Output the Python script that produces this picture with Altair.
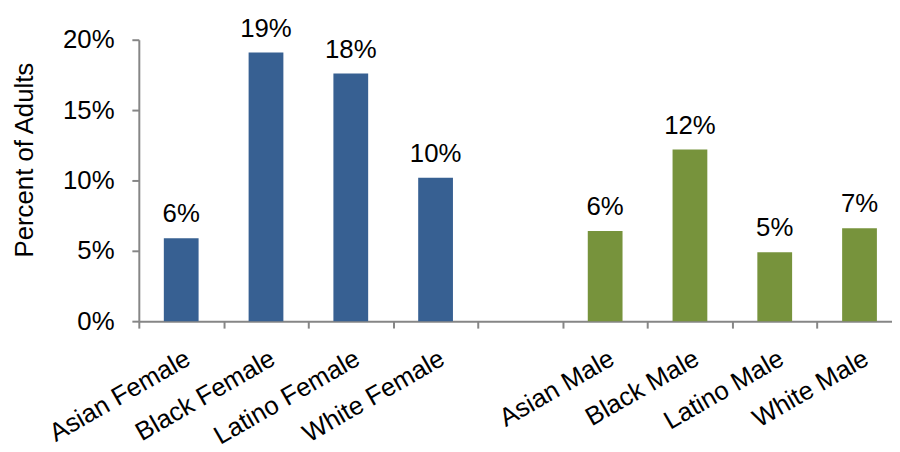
import altair as alt
import pandas as pd

categories = ["Asian Female", "Black Female", "Latino Female", "White Female", " ",
              "Asian Male", "Black Male", "Latino Male", "White Male"]
bar_categories = ["Asian Female", "Black Female", "Latino Female", "White Female",
                  "Asian Male", "Black Male", "Latino Male", "White Male"]
values = [0.059, 0.191, 0.176, 0.102, 0.064, 0.122, 0.049, 0.066]
groups = ["Female", "Female", "Female", "Female", "Male", "Male", "Male", "Male"]

df = pd.DataFrame({"cat": bar_categories, "value": values, "group": groups})

FONT = "Liberation Sans"
GRAY = "#868686"
FS = 26

x = alt.X("cat:N", sort=categories,
          scale=alt.Scale(domain=categories, range=[0, 770], paddingInner=0, paddingOuter=0),
          axis=alt.Axis(title=None, labelAngle=330, labelAlign="right", labelBaseline="top",
                        labelPadding=17, labelFontSize=FS, labelFont=FONT, labelColor="#000000",
                        tickBand="extent", tickSize=7, tickColor=GRAY, tickWidth=2,
                        domainColor=GRAY, domainWidth=2, labelOverlap=False))
y = alt.Y("value:Q",
          scale=alt.Scale(domain=[0, 0.2], nice=False),
          axis=alt.Axis(title="Percent of Adults", format=".0%", values=[0, 0.05, 0.1, 0.15, 0.2],
                        grid=False, labelFontSize=FS, labelFont=FONT, labelColor="#000000",
                        labelPadding=18, tickSize=7, tickColor=GRAY, tickWidth=2,
                        domainColor=GRAY, domainWidth=2,
                        titleFontSize=FS, titleFont=FONT, titleFontWeight="normal",
                        titleColor="#000000", titleAngle=270, titleAlign="center",
                        titleBaseline="alphabetic", titleX=-107, titleY=121))

color = alt.Color("group:N", scale=alt.Scale(domain=["Female", "Male"], range=["#376092", "#77933C"]),
                  legend=None)

bars = alt.Chart(df).mark_bar(width=alt.RelativeBandSize(0.41)).encode(x=x, y=y, color=color)
labels = alt.Chart(df).mark_text(font=FONT, fontSize=FS, baseline="alphabetic", dy=-16,
                                 color="#000000").encode(
    x=alt.X("cat:N", sort=categories), y="value:Q", text=alt.Text("value:Q", format=".0%"))

chart = alt.layer(bars, labels).properties(
    width=760, height=284,
    autosize=alt.AutoSizeParams(type="none"),
    padding={"left": 132, "top": 30, "right": 0, "bottom": 130},
).configure_view(stroke=None)

chart.save("out.html", embed_options={"renderer": "svg", "actions": False})
